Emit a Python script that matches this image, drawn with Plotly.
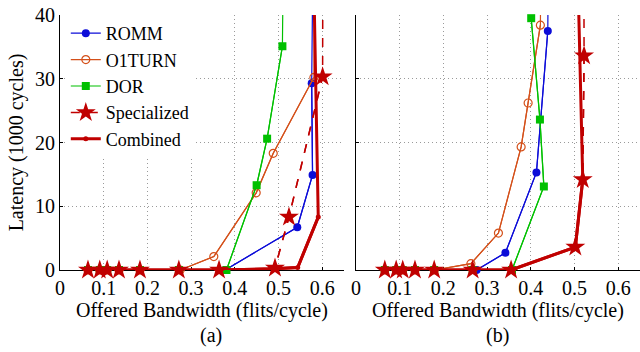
import plotly.graph_objects as go

# ---------------- data (offered bandwidth, latency in 1000 cycles) ----------------
series_names = ["ROMM", "O1TURN", "DOR", "Specialized", "Combined"]

# panel (a)
romm_a_x = [0.064, 0.091, 0.108, 0.135, 0.183, 0.272, 0.378, 0.543, 0.578, 0.576, 0.582]
romm_a_y = [0, 0, 0, 0, 0, 0, 0, 6.7, 14.9, 29.3, 70]
o1turn_a_x = [0.064, 0.091, 0.108, 0.135, 0.183, 0.275, 0.352, 0.449, 0.488, 0.581, 0.584]
o1turn_a_y = [0, 0, 0, 0, 0, 0, 2.1, 12.1, 18.3, 30.2, 70]
dor_a_x = [0.064, 0.091, 0.108, 0.135, 0.183, 0.272, 0.381, 0.450, 0.474, 0.509, 0.514]
dor_a_y = [0, 0, 0, 0, 0, 0, 0, 13.3, 20.6, 35.1, 70]
spec_a_x = [0.064, 0.091, 0.108, 0.135, 0.183, 0.272, 0.364, 0.492, 0.524, 0.601, 0.602]
spec_a_y = [0, 0, 0, 0, 0, 0, 0, 0.3, 8.3, 30.3, 70]
comb_a_x = [0.064, 0.091, 0.108, 0.135, 0.183, 0.272, 0.364, 0.490, 0.544, 0.591, 0.574]
comb_a_y = [0, 0, 0, 0, 0, 0, 0, 0.2, 0.4, 8.3, 70]

# panel (b)
romm_b_x = [0.066, 0.092, 0.107, 0.135, 0.179, 0.276, 0.342, 0.413, 0.439, 0.442]
romm_b_y = [0, 0, 0, 0, 0, 0, 2.7, 15.3, 37.5, 70]
o1turn_b_x = [0.066, 0.092, 0.107, 0.135, 0.179, 0.263, 0.326, 0.378, 0.394, 0.422, 0.426]
o1turn_b_y = [0, 0, 0, 0, 0, 1.0, 5.8, 19.3, 26.2, 38.4, 70]
dor_b_x = [0.066, 0.092, 0.107, 0.135, 0.179, 0.267, 0.357, 0.430, 0.421, 0.401, 0.399]
dor_b_y = [0, 0, 0, 0, 0, 0, 0, 13.1, 23.6, 39.5, 70]
spec_b_x = [0.066, 0.092, 0.107, 0.135, 0.179, 0.267, 0.355, 0.502, 0.519, 0.522, 0.521]
spec_b_y = [0, 0, 0, 0, 0, 0, 0, 3.6, 14.2, 33.6, 70]
comb_b_x = [0.066, 0.092, 0.107, 0.135, 0.179, 0.267, 0.355, 0.502, 0.519, 0.4995]
comb_b_y = [0, 0, 0, 0, 0, 0, 0, 3.6, 14.2, 70]

x_ticks = [0, 0.1, 0.2, 0.3, 0.4, 0.5, 0.6]
x_ticklabels = ["0", "0.1", "0.2", "0.3", "0.4", "0.5", "0.6"]
y_ticks = [0, 10, 20, 30, 40]
panel_labels = ["(a)", "(b)"]
x_title = "Offered Bandwidth (flits/cycle)"
y_title = "Latency (1000 cycles)"

# ---------------- styles ----------------
RED = "#c00000"
styles = {
    "ROMM": dict(color="#0c0cd8", width=1.2, dash="solid", symbol="circle", msize=8),
    "O1TURN": dict(color="#d4501a", width=1.2, dash="solid", symbol="circle-open", msize=8),
    "DOR": dict(color="#00c000", width=1.2, dash="solid", symbol="square", msize=8),
    "Specialized": dict(color=RED, width=1.5, dash="dash", symbol="star", msize=15),
    "Combined": dict(color=RED, width=3, dash="solid", symbol="circle", msize=5),
}

panels = [
    ("x", "y", {"ROMM": (romm_a_x, romm_a_y), "O1TURN": (o1turn_a_x, o1turn_a_y),
                "DOR": (dor_a_x, dor_a_y), "Specialized": (spec_a_x, spec_a_y),
                "Combined": (comb_a_x, comb_a_y)}),
    ("x2", "y2", {"ROMM": (romm_b_x, romm_b_y), "O1TURN": (o1turn_b_x, o1turn_b_y),
                  "DOR": (dor_b_x, dor_b_y), "Specialized": (spec_b_x, spec_b_y),
                  "Combined": (comb_b_x, comb_b_y)}),
]

YMAX = 40
fig = go.Figure()
for pi, (xa, ya, data) in enumerate(panels):
    for name in series_names:
        xs, ys = data[name]
        st = styles[name]
        # full line (clipped to plot area)
        fig.add_trace(go.Scatter(
            x=xs, y=ys, xaxis=xa, yaxis=ya, mode="lines",
            line=dict(color=st["color"], width=st["width"], dash=st["dash"]),
            showlegend=False, hoverinfo="skip", legendgroup=name))
        # markers for the points inside the visible range
        xin = [x for x, y in zip(xs, ys) if y <= YMAX]
        yin = [y for y in ys if y <= YMAX]
        fig.add_trace(go.Scatter(
            x=xin, y=yin, xaxis=xa, yaxis=ya, mode="lines+markers", name=name,
            line=dict(color=st["color"], width=st["width"], dash=st["dash"]),
            marker=dict(symbol=st["symbol"], size=st["msize"], color=st["color"],
                        line=dict(color=st["color"], width=1.2 if name == "O1TURN" else 0)),
            cliponaxis=False, showlegend=(pi == 0), legendgroup=name))

FONT = "Liberation Serif"
grid = dict(showgrid=True, gridcolor="#9a9a9a", griddash="1px,3px", gridwidth=1)
axis_common = dict(
    range=[0, 0.65], tickvals=x_ticks, ticktext=x_ticklabels,
    showline=True, linecolor="black", linewidth=1, mirror=False,
    zeroline=False, ticks="inside", ticklen=3, tickcolor="black",
    tickfont=dict(family=FONT, size=20, color="black"), layer="below traces", **grid,
)
yaxis_common = dict(
    range=[0, 40], tickvals=y_ticks,
    showline=True, linecolor="black", linewidth=1, mirror=False,
    zeroline=False, ticks="inside", ticklen=3, tickcolor="black",
    tickfont=dict(family=FONT, size=20, color="black"), layer="below traces", **grid,
)

fig.update_layout(
    width=640, height=352,
    margin=dict(l=60, r=0, t=15, b=82),
    paper_bgcolor="white", plot_bgcolor="white",
    font=dict(family=FONT, size=20, color="black"),
    xaxis=dict(domain=[0, 0.4897], anchor="y",
               title=dict(text=x_title, standoff=0, font=dict(family=FONT, size=20)),
               **axis_common),
    xaxis2=dict(domain=[0.5103, 1.0], anchor="y2",
                title=dict(text=x_title, standoff=0, font=dict(family=FONT, size=20)),
                **axis_common),
    yaxis=dict(domain=[0, 1], anchor="x",
               title=dict(text=y_title, standoff=6, font=dict(family=FONT, size=20)),
               **yaxis_common),
    yaxis2=dict(domain=[0, 1], anchor="x2", showticklabels=False, **yaxis_common),
    showlegend=True,
    legend=dict(x=0.01, y=1.0, xanchor="left", yanchor="top",
                bgcolor="white", borderwidth=0,
                font=dict(family=FONT, size=18, color="black"),
                tracegroupgap=0, itemsizing="trace"),
    annotations=[
        dict(text=panel_labels[0], x=0.26, y=-0.255, xref="paper", yref="paper",
             showarrow=False, font=dict(family=FONT, size=20), xanchor="center",
             yanchor="middle"),
        dict(text=panel_labels[1], x=0.755, y=-0.255, xref="paper", yref="paper",
             showarrow=False, font=dict(family=FONT, size=20), xanchor="center",
             yanchor="middle"),
    ],
)

fig.write_html("out.html", config={"displayModeBar": False},
               post_script="document.body.style.margin='0';document.body.style.padding='0';")
